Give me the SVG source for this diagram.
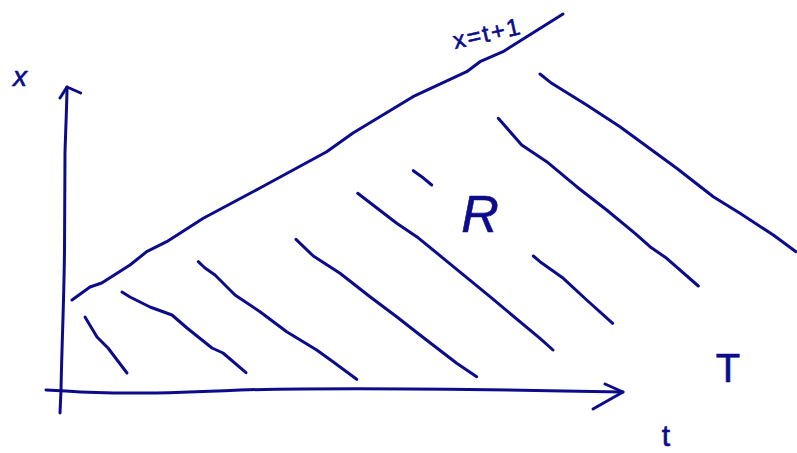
<svg xmlns="http://www.w3.org/2000/svg" width="797" height="453" viewBox="0 0 797 453">
<style>
.ink{fill:none;stroke:#0c0c8a;stroke-width:3;stroke-linecap:round;stroke-linejoin:round}
.lbl{fill:#0c0c8a;font-family:"Liberation Sans",Arial,sans-serif;stroke:#0c0c8a;stroke-width:0.6}
</style>
<rect width="797" height="453" fill="#ffffff"/>
<g id="axes">
<path class="ink" d="M60,413 L61,390 C62,340 64,300 64.5,250 L65,153 C66,120 67,100 67,87"/>
<path class="ink" d="M60,98 L67,87 L80.7,93"/>
<path class="ink" d="M46,390 L66,391 C120,395 180,393 240,390 C350,387 480,389 623,392"/>
<path class="ink" d="M605,384 L623,392 L593,409"/>
</g>
<g id="boundary">
<path class="ink" d="M72,300 L90,287 L101.7,283 L130,265 L146.7,251.7 L166.7,241.7 L203.3,218.3 L260,188 L326.7,151.7 L353,133 L413,96.7 L466.7,71.7 L480,61.7 L503,51.7 L563,14"/>
</g>
<g id="hatching">
<path class="ink" d="M85,317 L97,337 L108,348 L127,373"/>
<path class="ink" d="M122,292 L130,297 L150,307 L172,315 L187,328 L212,348 L223,353 L246,372.7"/>
<path class="ink" d="M198.3,261.7 L205,268 L215,275 L235,295 L260,311.7 L286.7,331.7 L316.7,350 L333,361.7 L356.7,379.3"/>
<path class="ink" d="M296,239.3 L313.3,256 L340,273.3 L370,296.7 L396.7,316.7 L420,335 L456.7,363.3 L476.7,376.7"/>
<path class="ink" d="M357.7,193.3 L396.7,223.3 L416.7,236.7 L443.3,258.3 L490,296.7 L540,338.3 L553,350"/>
<path class="ink" d="M413.3,170.7 L421.7,176.7 L431.7,185"/>
<path class="ink" d="M533.3,256 L540,261.7 L563.3,278.3 L586.7,300 L612.7,323.3"/>
<path class="ink" d="M498.3,118.3 L521.7,145 L546.7,161.7 L576.7,186.7 L606.7,210 L635,233.3 L650,246.7 L666.7,258.3 L698.3,286"/>
<path class="ink" d="M540,74 L551.7,83.3 L586.7,105 L620,126.7 L676.7,168.3 L713.3,196.7 L740,213.3 L773.3,235 L796,251.7"/>
</g>
<g id="labels">
<text class="lbl" x="20" y="86" font-size="28" font-style="italic" text-anchor="middle">x</text>
<text class="lbl" x="455" y="49" font-size="24" textLength="68" lengthAdjust="spacing" transform="rotate(-12.6 455 49)">x=t+1</text>
<text class="lbl" x="480" y="232" font-size="52" font-style="italic" text-anchor="middle">R</text>
<text class="lbl" x="728" y="382" font-size="40" text-anchor="middle">T</text>
<text class="lbl" x="666" y="446" font-size="30" text-anchor="middle">t</text>
</g>
</svg>
